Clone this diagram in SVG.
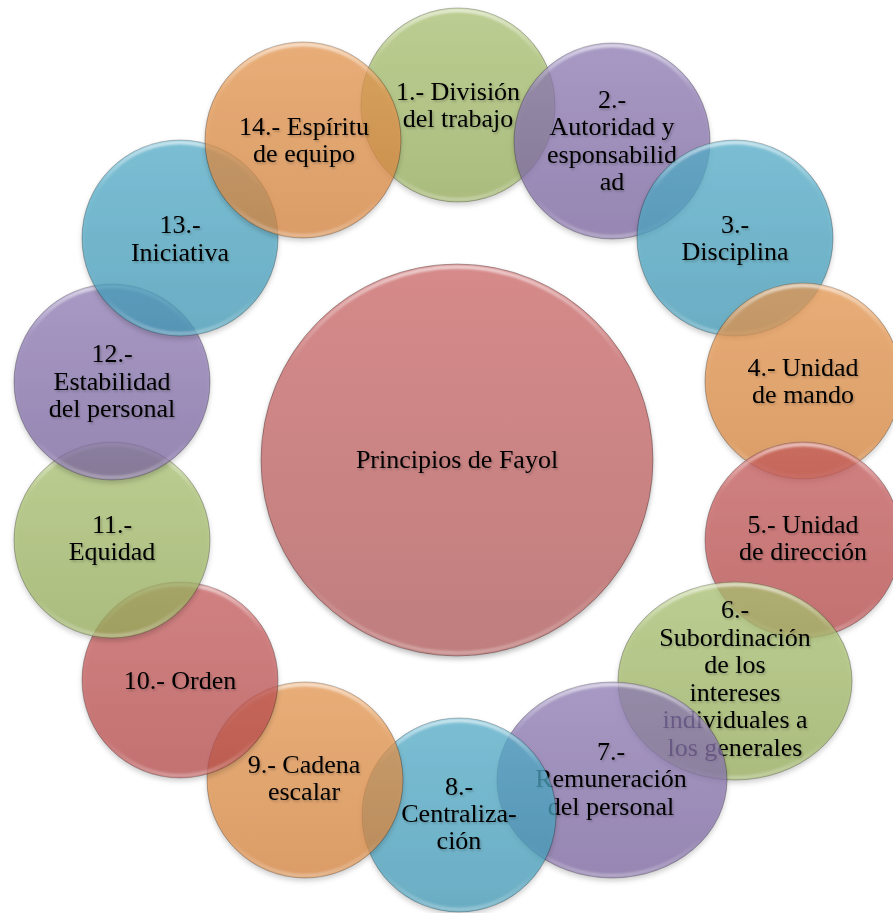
<svg xmlns="http://www.w3.org/2000/svg" width="893" height="913" viewBox="0 0 893 913">
  <defs>
    <!-- vertical fills, lighter at the top -->
    <linearGradient id="gGreen" x1="0" y1="0" x2="0" y2="1">
      <stop offset="0" stop-color="#adc475"/>
      <stop offset="1" stop-color="#97ae5b"/>
    </linearGradient>
    <linearGradient id="gPurple" x1="0" y1="0" x2="0" y2="1">
      <stop offset="0" stop-color="#917eb7"/>
      <stop offset="1" stop-color="#7b66a0"/>
    </linearGradient>
    <linearGradient id="gBlue" x1="0" y1="0" x2="0" y2="1">
      <stop offset="0" stop-color="#57b0cc"/>
      <stop offset="1" stop-color="#419ab7"/>
    </linearGradient>
    <linearGradient id="gOrange" x1="0" y1="0" x2="0" y2="1">
      <stop offset="0" stop-color="#e79a54"/>
      <stop offset="1" stop-color="#d7843c"/>
    </linearGradient>
    <linearGradient id="gRed" x1="0" y1="0" x2="0" y2="1">
      <stop offset="0" stop-color="#c95f5f"/>
      <stop offset="1" stop-color="#b74a4a"/>
    </linearGradient>
    <linearGradient id="gCenter" x1="0" y1="0" x2="0" y2="1">
      <stop offset="0" stop-color="#d68a8a"/>
      <stop offset="1" stop-color="#c07e7e"/>
    </linearGradient>
    <!-- bevel highlight along the inner edge -->
    <linearGradient id="gRim" x1="0" y1="0" x2="0" y2="1">
      <stop offset="0" stop-color="#ffffff" stop-opacity="0.6"/>
      <stop offset="0.25" stop-color="#ffffff" stop-opacity="0"/>
      <stop offset="0.8" stop-color="#ffffff" stop-opacity="0"/>
      <stop offset="1" stop-color="#ffffff" stop-opacity="0.3"/>
    </linearGradient>
    <filter id="discShadow" x="-20%" y="-20%" width="140%" height="140%">
      <feDropShadow dx="0" dy="3" stdDeviation="2.5" flood-color="#000" flood-opacity="0.25"/>
    </filter>
    <filter id="soft" x="-10%" y="-10%" width="120%" height="120%">
      <feGaussianBlur stdDeviation="0.9"/>
    </filter>
    <filter id="textShadow" x="-10%" y="-20%" width="120%" height="150%">
      <feDropShadow dx="1.2" dy="1.6" stdDeviation="1.3" flood-color="#000" flood-opacity="0.25"/>
    </filter>
  </defs>
  <style>
    .disc { fill-opacity: 0.72; stroke: #000; stroke-opacity: 0.28; stroke-width: 1; filter: url(#discShadow); }
    .center { fill: url(#gCenter); stroke: #000; stroke-opacity: 0.3; stroke-width: 1; filter: url(#discShadow); }
    .green { fill: url(#gGreen); }
    .purple { fill: url(#gPurple); }
    .blue { fill: url(#gBlue); }
    .orange { fill: url(#gOrange); }
    .red { fill: url(#gRed); }
    .rim { fill: none; stroke: url(#gRim); stroke-width: 3.5; filter: url(#soft); }
    .label { font-family: 'Liberation Serif', 'DejaVu Serif', serif; font-size: 26px; fill: #000; text-anchor: middle; filter: url(#textShadow); }
  </style>

  <rect width="893" height="913" fill="#ffffff"/>

  <!-- hub -->
  <g id="node-center">
    <circle class="center" cx="457" cy="460" r="196"/>
    <circle class="rim" cx="457" cy="460" r="193"/>
    <text class="label" x="457" y="468">Principios de Fayol</text>
  </g>

  <!-- ring of principles, each drawn over the previous one -->
  <g id="node-1">
    <circle class="disc green" cx="458" cy="105" r="97"/>
    <circle class="rim" cx="458" cy="105" r="94.5"/>
    <text class="label"><tspan x="458" y="100">1.- División</tspan><tspan x="458" y="127">del trabajo</tspan></text>
  </g>

  <g id="node-2">
    <circle class="disc purple" cx="612" cy="141" r="98"/>
    <circle class="rim" cx="612" cy="141" r="95.5"/>
    <text class="label"><tspan x="612" y="108">2.-</tspan><tspan x="612" y="135">Autoridad y</tspan><tspan x="612" y="163">esponsabilid</tspan><tspan x="612" y="190">ad</tspan></text>
  </g>

  <g id="node-3">
    <circle class="disc blue" cx="735" cy="238" r="98"/>
    <circle class="rim" cx="735" cy="238" r="95.5"/>
    <text class="label"><tspan x="735" y="233">3.-</tspan><tspan x="735" y="260">Disciplina</tspan></text>
  </g>

  <g id="node-4">
    <circle class="disc orange" cx="803" cy="381" r="98"/>
    <circle class="rim" cx="803" cy="381" r="95.5"/>
    <text class="label"><tspan x="803" y="376">4.- Unidad</tspan><tspan x="803" y="403">de mando</tspan></text>
  </g>

  <g id="node-5">
    <circle class="disc red" cx="803" cy="540" r="98"/>
    <circle class="rim" cx="803" cy="540" r="95.5"/>
    <text class="label"><tspan x="803" y="533">5.- Unidad</tspan><tspan x="803" y="560">de dirección</tspan></text>
  </g>

  <g id="node-6">
    <ellipse class="disc green" cx="735" cy="681" rx="117" ry="99"/>
    <ellipse class="rim" cx="735" cy="681" rx="114.5" ry="96.5"/>
    <text class="label"><tspan x="735" y="618">6.-</tspan><tspan x="735" y="646">Subordinación</tspan><tspan x="735" y="673">de los</tspan><tspan x="735" y="701">intereses</tspan><tspan x="735" y="728">individuales a</tspan><tspan x="735" y="756">los generales</tspan></text>
  </g>

  <g id="node-7">
    <ellipse class="disc purple" cx="612" cy="780" rx="115" ry="98"/>
    <ellipse class="rim" cx="612" cy="780" rx="112.5" ry="95.5"/>
    <text class="label"><tspan x="611" y="760">7.-</tspan><tspan x="611" y="787">Remuneración</tspan><tspan x="611" y="815">del personal</tspan></text>
  </g>

  <g id="node-8">
    <circle class="disc blue" cx="459" cy="815" r="97"/>
    <circle class="rim" cx="459" cy="815" r="94.5"/>
    <text class="label"><tspan x="459" y="795">8.-</tspan><tspan x="459" y="822">Centraliza-</tspan><tspan x="459" y="849">ción</tspan></text>
  </g>

  <g id="node-9">
    <circle class="disc orange" cx="305" cy="780" r="98"/>
    <circle class="rim" cx="305" cy="780" r="95.5"/>
    <text class="label"><tspan x="304" y="773">9.- Cadena</tspan><tspan x="304" y="800">escalar</tspan></text>
  </g>

  <g id="node-10">
    <circle class="disc red" cx="180" cy="680" r="98"/>
    <circle class="rim" cx="180" cy="680" r="95.5"/>
    <text class="label" x="180" y="689">10.- Orden</text>
  </g>

  <g id="node-11">
    <circle class="disc green" cx="112" cy="540" r="98"/>
    <circle class="rim" cx="112" cy="540" r="95.5"/>
    <text class="label"><tspan x="112" y="533">11.-</tspan><tspan x="112" y="560">Equidad</tspan></text>
  </g>

  <g id="node-12">
    <circle class="disc purple" cx="112" cy="382" r="98"/>
    <circle class="rim" cx="112" cy="382" r="95.5"/>
    <text class="label"><tspan x="112" y="362">12.-</tspan><tspan x="112" y="390">Estabilidad</tspan><tspan x="112" y="417">del personal</tspan></text>
  </g>

  <g id="node-13">
    <circle class="disc blue" cx="180" cy="238" r="98"/>
    <circle class="rim" cx="180" cy="238" r="95.5"/>
    <text class="label"><tspan x="180" y="233">13.-</tspan><tspan x="180" y="261">Iniciativa</tspan></text>
  </g>

  <g id="node-14">
    <circle class="disc orange" cx="303" cy="140" r="98"/>
    <circle class="rim" cx="303" cy="140" r="95.5"/>
    <text class="label"><tspan x="304" y="135">14.- Espíritu</tspan><tspan x="304" y="162">de equipo</tspan></text>
  </g>
</svg>
